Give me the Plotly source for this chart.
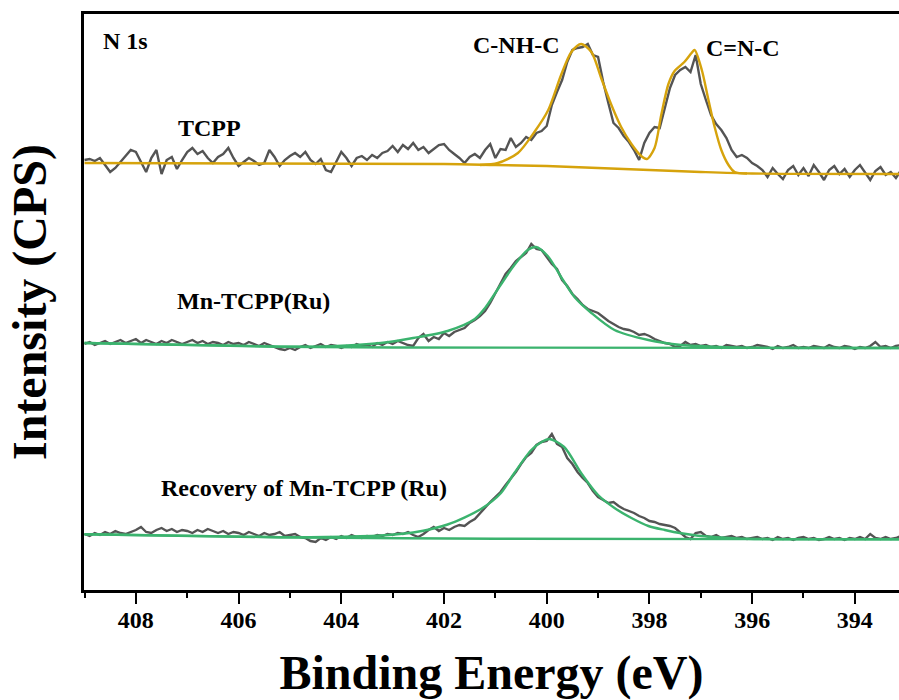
import numpy as np
import plotly.graph_objects as go

# ---------------- data ----------------
# Binding-energy scan grid of the spectra, 0.1 eV steps from 409.0 to 393.1 eV
energy = np.round(np.arange(409.0, 393.05, -0.1), 1)

# Raw spectra (a.u., already stacked as in the figure)
tcpp_raw = [
    430, 431, 429, 432, 425, 418, 422, 428, 434, 440,
    438, 428, 418, 432, 440, 416, 430, 433, 421, 430,
    438, 442, 436, 439, 432, 427, 433, 436, 442, 432,
    424, 428, 432, 429, 425, 427, 440, 433, 424, 430,
    434, 437, 433, 438, 430, 426, 431, 420, 418, 428,
    438, 432, 424, 432, 434, 430, 435, 432, 437, 439,
    444, 438, 445, 441, 447, 440, 443, 437, 441, 445,
    446, 440, 436, 432, 427, 433, 436, 432, 440, 446,
    432, 441, 440, 452, 443, 447, 453, 450, 457, 459,
    464, 485, 498, 510, 528, 540, 542, 543, 546, 535,
    533, 508, 487, 467, 462, 454, 448, 440, 430, 447,
    457, 463, 462, 483, 502, 515, 520, 523, 518, 535,
    506, 490, 475, 466, 460, 452, 440, 433, 435, 432,
    427, 424, 420, 413, 422, 416, 411, 420, 424, 415,
    422, 414, 425, 418, 410, 420, 424, 416, 421, 413,
    420, 425, 417, 410, 419, 423, 415, 418, 412, 420]

mn_raw = [
    246, 248, 245, 247, 249, 246, 248, 250, 247, 249,
    251, 247, 250, 248, 246, 249, 247, 250, 248, 246,
    248, 250, 247, 249, 246, 248, 247, 245, 248, 246,
    247, 245, 248, 246, 244, 247, 245, 243, 241, 240,
    242, 240, 243, 245, 242, 244, 246, 243, 245, 244,
    242, 244, 243, 246, 244, 245, 243, 247, 245, 248,
    246, 249, 247, 245, 244, 252, 256, 249, 253, 251,
    257, 254, 258, 260, 262, 267, 270, 274, 279, 287,
    297, 307, 316, 322, 329, 333, 337, 346, 341, 340,
    333, 326, 321, 310, 304, 296, 291, 285, 281, 279,
    277, 273, 269, 266, 263, 261, 260, 258, 255, 256,
    254, 251, 249, 247, 246, 243, 244, 248, 245, 246,
    244, 245, 243, 244, 242, 245, 244, 243, 244, 242,
    243, 245, 244, 243, 241, 244, 242, 243, 245, 242,
    243, 242, 244, 243, 242, 245, 243, 242, 244, 243,
    241, 243, 242, 244, 248, 243, 244, 242, 244, 245]

rec_raw = [
    56, 54, 57, 55, 58, 56, 59, 57, 56, 58,
    60, 63, 58, 57, 60, 62, 59, 61, 58, 60,
    59, 57, 60, 58, 61, 59, 57, 59, 56, 58,
    57, 55, 58, 56, 54, 57, 55, 56, 58, 54,
    55, 56, 53, 52, 49, 48, 52, 50, 53, 51,
    54, 52, 55, 53, 52, 54, 53, 55, 54, 56,
    55, 57, 56, 58, 55, 53, 56, 60, 63, 59,
    62, 60, 63, 65, 64, 68, 71, 77, 83, 88,
    93, 98, 105, 111, 118, 126, 133, 137, 145, 148,
    149, 156, 146, 143, 132, 126, 118, 112, 107, 99,
    93, 90, 87, 88, 84, 81, 79, 77, 74, 72,
    69, 68, 66, 65, 64, 62, 57, 53, 51, 57,
    58, 54, 53, 55, 52, 53, 54, 52, 53, 51,
    52, 53, 51, 52, 50, 53, 51, 52, 50, 52,
    53, 51, 52, 50, 51, 53, 51, 52, 50, 52,
    51, 53, 51, 56, 52, 51, 53, 51, 52, 54]

# Fitted backgrounds and envelopes
tcpp_bg_e = [409.0, 402.0, 401.0, 400.0, 399.0, 398.0, 397.0, 396.0, 393.1]
tcpp_bg = [427, 426, 425, 424, 422, 420, 418, 416.5, 416]
tcpp_fit_e = [401.3, 400.95, 400.56, 400.24, 399.97, 399.72, 399.52, 399.33, 399.13,
              398.94, 398.74, 398.55, 398.35, 398.16, 398.05, 397.9, 397.77, 397.63,
              397.51, 397.32, 397.18, 397.12, 396.98, 396.85, 396.73, 396.6, 396.46,
              396.34, 396.1]
tcpp_fit = [425, 427, 437, 458, 480, 515, 538, 546, 538,
            512, 485, 463, 446, 434, 431, 442, 475, 506,
            519, 528, 537, 540, 520, 490, 463, 440, 425,
            418, 416.5]

mn_bg_e = [409.0, 405.2, 403.0, 393.1]
mn_bg = [247, 243.3, 242.5, 242]
mn_fit_e = [409.0, 405.2, 404.3, 403.23, 402.6, 401.93, 401.4, 401.2, 400.95, 400.63,
            400.37, 400.21, 399.98, 399.72, 399.46, 399.13, 398.68, 398.02, 397.38,
            396.73, 396.0, 393.1]
mn_fit = [247, 243.4, 243.6, 247, 252, 259, 271, 282, 301, 325,
          340, 343, 334, 313, 293, 277, 260, 250, 245,
          243.3, 242.2, 242]

rec_bg_e = [409.0, 405.2, 401.0, 393.1]
rec_bg = [55.7, 52.7, 51.2, 50.7]
rec_fit_e = [409.0, 405.2, 404.3, 403.23, 402.6, 401.93, 401.28, 400.89, 400.63, 400.3,
             400.1, 399.95, 399.66, 399.33, 399.0, 398.68, 398.35, 398.02, 397.7,
             397.38, 397.05, 396.73, 396.1, 393.1]
rec_fit = [55.7, 52.8, 53.0, 54.5, 57.5, 65.5, 81, 97, 117, 140,
           148, 151, 143, 117, 95, 82, 72, 64, 60,
           56.7, 54.3, 53, 51.3, 50.7]

tick_values = [408, 406, 404, 402, 400, 398, 396, 394]
tick_labels = ["408", "406", "404", "402", "400", "398", "396", "394"]
minor_values = [409, 407, 405, 403, 401, 399, 397, 395, 393]

# ---------------- styling ----------------
SERIF = "Liberation Serif, Times New Roman, serif"
RAW = "#545454"
GOLD = "#D6A30C"
GREEN = "#3BB36E"

fig = go.Figure()

def line(x, y, color, width=2.4, shape="linear"):
    fig.add_trace(go.Scatter(x=x, y=y, mode="lines",
                             line=dict(color=color, width=width, shape=shape, smoothing=0.8),
                             showlegend=False, hoverinfo="skip"))

line(energy, tcpp_raw, RAW)
line(tcpp_bg_e, tcpp_bg, GOLD, shape="spline")
line(tcpp_fit_e, tcpp_fit, GOLD, shape="spline")

line(energy, mn_raw, RAW)
line(mn_bg_e, mn_bg, GREEN, shape="spline")
line(mn_fit_e, mn_fit, GREEN, shape="spline")

line(energy, rec_raw, RAW)
line(rec_bg_e, rec_bg, GREEN, shape="spline")
line(rec_fit_e, rec_fit, GREEN, shape="spline")

labels = [
    ("N 1s", 408.21, 549),
    ("TCPP", 406.56, 462),
    ("C-NH-C", 400.58, 545),
    ("C=N-C", 396.18, 542),
    ("Mn-TCPP(Ru)", 405.70, 289),
    ("Recovery of Mn-TCPP (Ru)", 404.73, 102),
]
for txt, xv, yv in labels:
    fig.add_annotation(x=xv, y=yv, text=txt, showarrow=False, xanchor="center", yanchor="middle",
                       font=dict(family=SERIF, size=24, color="black", weight="bold"))

fig.update_layout(
    width=899, height=700,
    margin=dict(l=84, r=0, t=14, b=110),
    paper_bgcolor="white", plot_bgcolor="white",
    xaxis=dict(
        range=[409.01, 393.14], showgrid=False, zeroline=False,
        showline=True, linecolor="black", linewidth=2.5, mirror=True,
        ticks="outside", ticklen=11, tickwidth=2, tickcolor="black",
        tickvals=tick_values, ticktext=tick_labels, ticklabelstandoff=-5,
        tickfont=dict(family=SERIF, size=24, color="black", weight="bold"),
        minor=dict(ticks="outside", ticklen=5, tickwidth=2, tickcolor="black",
                   tickvals=minor_values),
        title=dict(text="Binding Energy (eV)", standoff=26,
                   font=dict(family=SERIF, size=48, color="black", weight="bold")),
    ),
    yaxis=dict(
        range=[0, 576], showgrid=False, zeroline=False,
        showline=True, linecolor="black", linewidth=2.5,
        showticklabels=False, ticks="",
        title=dict(text="Intensity (CPS)", standoff=20,
                   font=dict(family=SERIF, size=48, color="black", weight="bold")),
    ),
)

fig.write_html("out.html")
